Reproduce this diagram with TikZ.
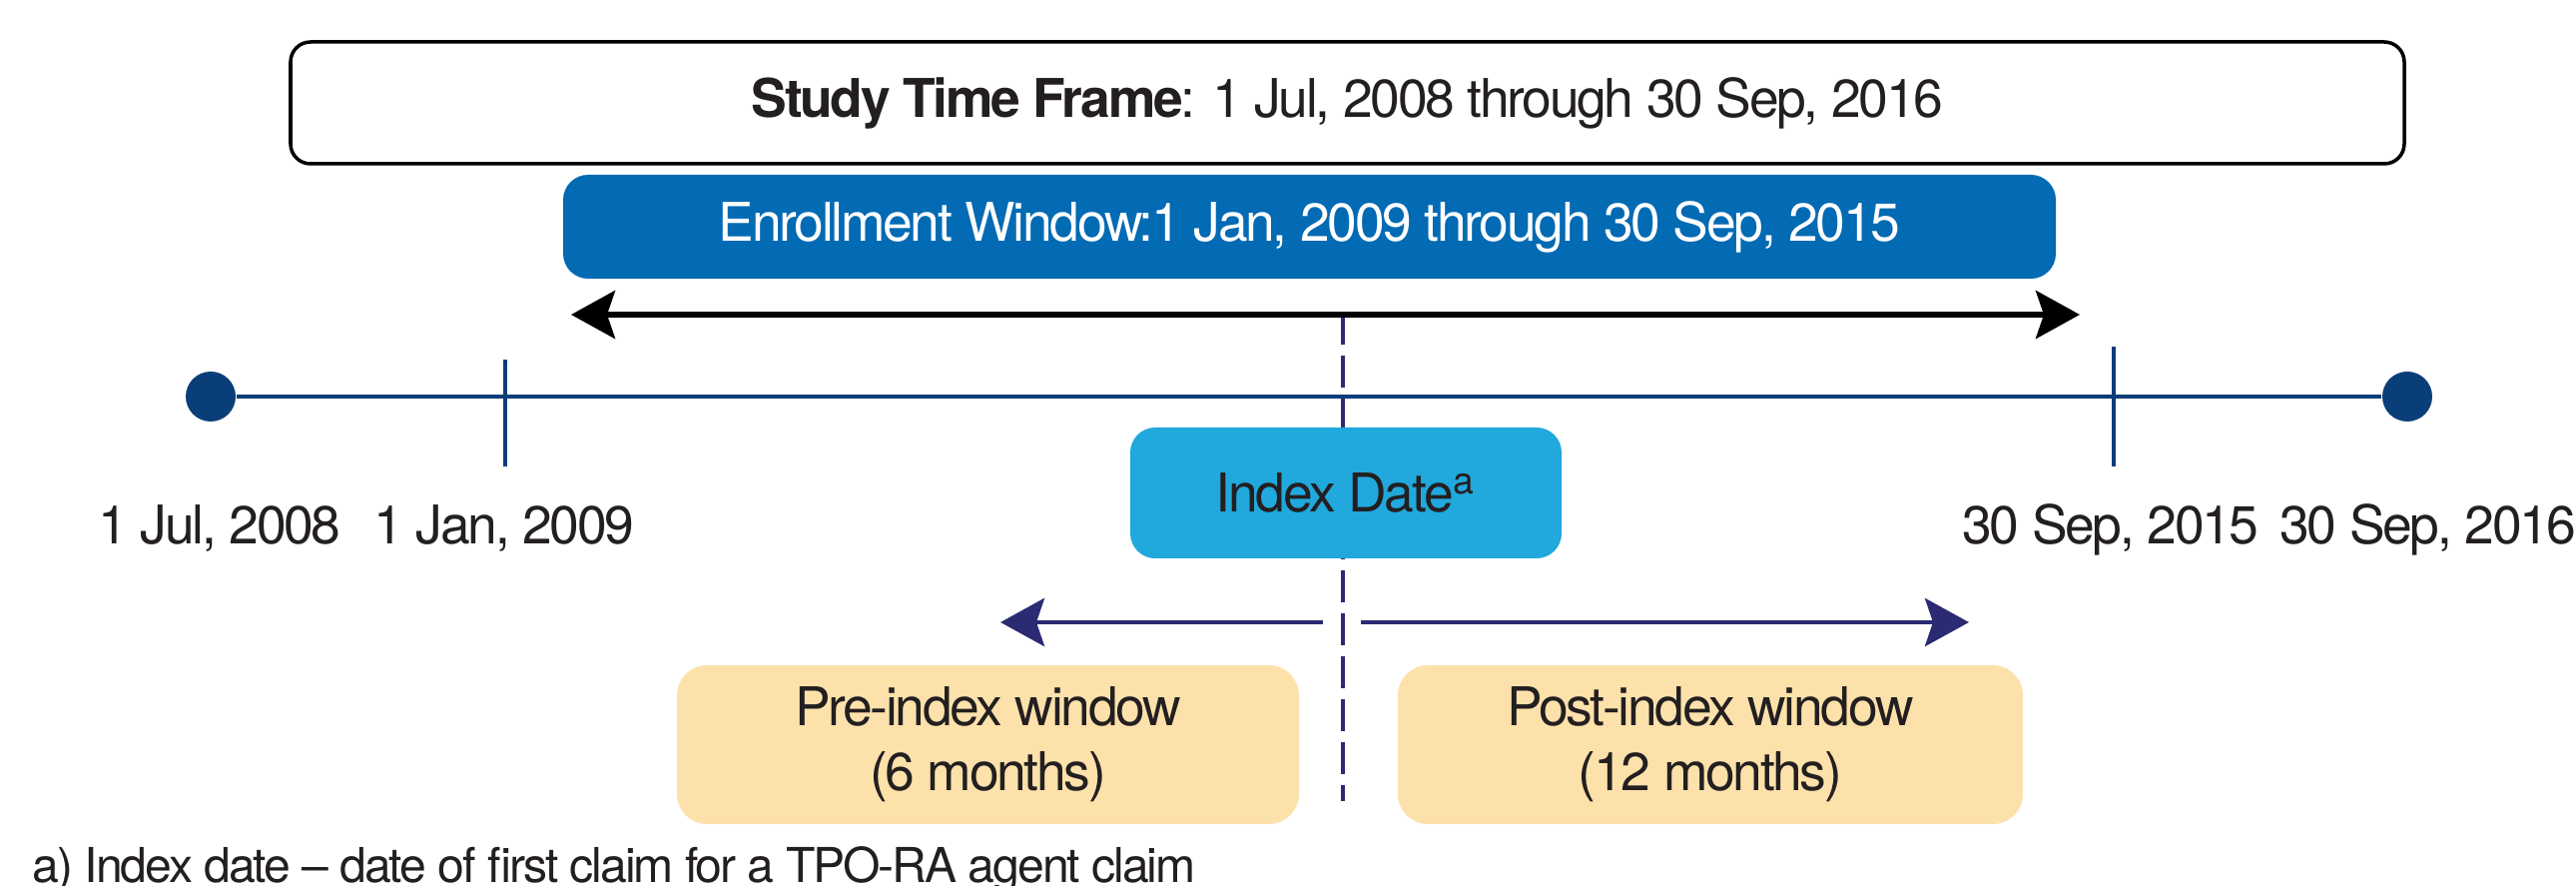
\documentclass[tikz,border=0pt]{standalone}
\usepackage{fontspec}
\setmainfont{TeX Gyre Heros}[LetterSpace=-4.3]
\usepackage{tikz}
\usetikzlibrary{arrows.meta,positioning}
\definecolor{enrollblue}{HTML}{036AB4}
\definecolor{indexblue}{HTML}{21A8DC}
\definecolor{windowtan}{HTML}{FCE1AB}
\definecolor{lineblue}{HTML}{0A3E79}
\definecolor{arrownavy}{HTML}{2A2B72}
\definecolor{inkgray}{HTML}{231F20}

\begin{document}
\begin{tikzpicture}[
  every node/.style={font=\fontsize{15.2}{18.5}\selectfont, text=inkgray, inner sep=0pt},
  box/.style={rectangle, rounded corners=0.25cm, align=center},
  datelabel/.style={anchor=base},
  enddot/.style={circle, fill=lineblue, minimum size=0.5cm},
  timeline/.style={draw=lineblue, line width=1.4pt},
  indexline/.style={draw=arrownavy, line width=1.4pt, dash pattern=on 0.32cm off 0.11cm},
  windowarrow/.style={->, draw=arrownavy, line width=1.4pt},
  >={Stealth[length=0.44cm, width=0.48cm, inset=0.08cm]}
]
\useasboundingbox (0,0) rectangle (25.8,-8.87);

\node[box, draw=black, line width=1pt, rounded corners=0.2cm, minimum width=21.17cm, minimum height=1.22cm] (study) at (13.495,-1.03)
  {\textbf{Study Time Frame}: 1 Jul, 2008 through 30 Sep, 2016};
\node[box, fill=enrollblue, text=white, minimum width=14.95cm, minimum height=1.04cm] (enroll) at (13.115,-2.27)
  {Enrollment Window:1 Jan, 2009 through 30 Sep, 2015};

\coordinate (enrstart) at (5.72,-3.15);
\coordinate (enrend) at (20.83,-3.15);
\coordinate (idxtop) at (13.45,-3.13);
\coordinate (idxbot) at (13.45,-8.02);
\draw[indexline] (idxtop) -- (idxbot);
\draw[<->, line width=1.7pt] (enrstart) -- (enrend);

\node[enddot] (tstart) at (2.11,-3.97) {};
\node[enddot] (tend) at (24.11,-3.97) {};
\draw[timeline] (tstart) -- (tend);
\coordinate (jantop) at (5.06,-3.60);
\coordinate (janbot) at (5.06,-4.67);
\coordinate (septop) at (21.17,-3.47);
\coordinate (sepbot) at (21.17,-4.67);
\draw[timeline] (jantop) -- (janbot);
\draw[timeline] (septop) -- (sepbot);

\node[datelabel] (jul08) at (2.20,-5.45) {1 Jul, 2008};
\node[datelabel] (jan09) at (5.05,-5.45) {1 Jan, 2009};
\node[datelabel] (sep15) at (21.14,-5.45) {30 Sep, 2015};
\node[datelabel] (sep16) at (24.32,-5.45) {30 Sep, 2016};

\node[box, fill=indexblue, minimum width=4.32cm, minimum height=1.31cm] (index) at (13.48,-4.935) {Index Date\textsuperscript{a}};

\coordinate (pretail) at (13.25,-6.23);
\coordinate (pretip) at (10.02,-6.23);
\coordinate (posttail) at (13.63,-6.23);
\coordinate (posttip) at (19.72,-6.23);
\draw[windowarrow] (pretail) -- (pretip);
\draw[windowarrow] (posttail) -- (posttip);

\node[box, fill=windowtan, rounded corners=0.3cm, minimum width=6.23cm, minimum height=1.59cm] (pre) at (9.895,-7.455)
  {Pre-index window\\(6 months)};
\node[box, fill=windowtan, rounded corners=0.3cm, minimum width=6.26cm, minimum height=1.59cm] (post) at (17.13,-7.455)
  {Post-index window\\(12 months)};

\node[anchor=base west, font=\fontsize{13.7}{16}\selectfont] (note) at (0.32,-8.84) {a) Index date – date of first claim for a TPO-RA agent claim};
\end{tikzpicture}
\end{document}
